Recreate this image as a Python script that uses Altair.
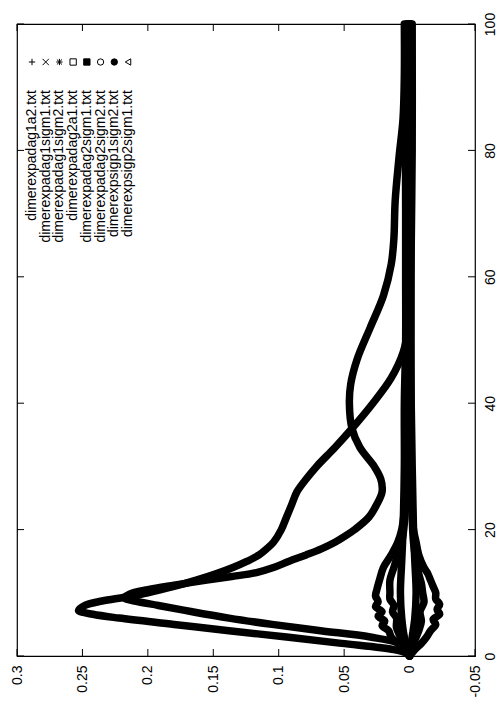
import altair as alt
import pandas as pd

# ---- data ----
labels = ["dimerexpadag1a2.txt", "dimerexpadag1sigm1.txt", "dimerexpadag1sigm2.txt",
          "dimerexpadag2a1.txt", "dimerexpadag2sigm1.txt", "dimerexpadag2sigm2.txt",
          "dimerexpsigp1sigm2.txt", "dimerexpsigp2sigm1.txt"]

a_t = [0, 0.5, 1, 2, 3, 4, 5, 6, 6.6, 7.2, 8, 8.7, 9.3, 10, 11, 12, 13, 14, 15, 16, 17, 18,
       20, 22, 24, 26, 28, 30, 33, 36, 40, 44, 48, 52, 56, 60, 70, 80, 90, 100]
a_v = [0, 0.003, 0.012, 0.052, 0.094, 0.138, 0.18, 0.222, 0.242, 0.253, 0.248, 0.235, 0.218,
       0.2, 0.18, 0.163, 0.148, 0.135, 0.124, 0.115, 0.109, 0.104, 0.098, 0.094, 0.09, 0.086,
       0.079, 0.071, 0.057, 0.044, 0.028, 0.014, 0.005, 0.001, 0.0, 0.0, 0.001, 0.002, 0.002, 0.002]

b_t = [0, 1, 2, 3, 4, 5, 6, 7, 8, 8.7, 9.2, 9.8, 10.5, 11.2, 12, 12.6, 13.2, 14, 15, 16, 17,
       18, 19, 20, 22, 24, 26, 28, 30, 33, 36, 40, 43, 47, 52, 57, 62, 66, 72, 79, 85, 92, 100]
b_v = [0, 0.002, 0.008, 0.03, 0.068, 0.105, 0.138, 0.166, 0.192, 0.21, 0.218, 0.214, 0.2,
       0.18, 0.155, 0.135, 0.117, 0.104, 0.092, 0.079, 0.067, 0.057, 0.049, 0.042, 0.031,
       0.025, 0.021, 0.022, 0.027, 0.038, 0.044, 0.046, 0.045, 0.04, 0.03, 0.02, 0.014,
       0.012, 0.011, 0.008, 0.005, 0.004, 0.004]

c1_t = [0, 1, 2, 3, 4, 4.8, 5.5, 6.3, 7, 7.8, 8.6, 9.5, 10.5, 12, 14, 16, 18, 20, 23, 27,
        32, 40, 50, 60, 80, 100]
c1_v = [0, 0.004, 0.009, 0.014, 0.016, 0.021, 0.019, 0.024, 0.021, 0.026, 0.024, 0.026,
        0.025, 0.023, 0.02, 0.014, 0.009, 0.006, 0.004, 0.003, 0.002, 0.002, 0.001, 0.001,
        0.0, 0.0]

c2_t = [0, 1.5, 3, 4.5, 6, 7, 8, 9, 10, 12, 14, 16, 18, 21, 25, 30, 40, 60, 100]
c2_v = [0, 0.004, 0.007, 0.01, 0.01, 0.013, 0.012, 0.015, 0.015, 0.015, 0.012, 0.009,
        0.006, 0.004, 0.003, 0.002, 0.002, 0.001, 0.001]

c3_t = [0, 1, 2, 3, 4, 5, 5.8, 6.6, 7.4, 8.2, 9, 10, 11, 12, 13, 14, 16, 18, 20, 23, 27,
        35, 50, 100]
c3_v = [0, -0.004, -0.009, -0.013, -0.016, -0.02, -0.018, -0.023, -0.021, -0.023, -0.02,
        -0.02, -0.018, -0.016, -0.014, -0.011, -0.007, -0.005, -0.003, -0.002, -0.001,
        -0.001, -0.001, -0.001]

c4_t = [0, 2, 4, 5.5, 7, 8.5, 10, 11.5, 13, 15, 18, 22, 30, 45, 100]
c4_v = [0, -0.003, -0.007, -0.009, -0.008, -0.011, -0.01, -0.009, -0.007, -0.005, -0.003,
        -0.002, -0.001, 0.0, 0.0]

c5_t = [0, 3, 6, 10, 15, 20, 30, 40, 50, 60, 70, 80, 90, 100]
c5_v = [0, 0.004, 0.006, 0.007, 0.006, 0.005, 0.004, 0.004, 0.003, 0.003, 0.003, 0.003,
        0.002, 0.002]

c6_t = [0, 3, 6, 10, 15, 20, 30, 45, 60, 80, 100]
c6_v = [0, -0.002, -0.004, -0.005, -0.004, -0.003, -0.002, -0.001, -0.001, -0.002, -0.002]

x_ticks = [-0.05, 0, 0.05, 0.1, 0.15, 0.2, 0.25, 0.3]
y_ticks = [0, 20, 40, 60, 80, 100]

series_t = [a_t, c1_t, c3_t, b_t, c2_t, c4_t, c5_t, c6_t]
series_v = [a_v, c1_v, c3_v, b_v, c2_v, c4_v, c5_v, c6_v]

rows = []
for lab, ts, vs in zip(labels, series_t, series_v):
    for i, (t, v) in enumerate(zip(ts, vs)):
        rows.append({"series": lab, "t": t, "v": v, "i": i})
df = pd.DataFrame(rows)

W, H = 458, 632
FONT = "Liberation Sans"

xscale = alt.Scale(domain=[-0.05, 0.3], reverse=True, nice=False, zero=False)
yscale = alt.Scale(domain=[0, 100], nice=False, zero=False)

lines = alt.Chart(df).mark_line(
    color="black", strokeWidth=7.5, strokeJoin="round", strokeCap="round",
    interpolate="catmull-rom"
).encode(
    x=alt.X("v:Q", scale=xscale,
            axis=alt.Axis(values=x_ticks, orient="bottom", title=None, grid=False,
                          ticks=False, domain=False, labelAngle=270, labelAlign="right",
                          labelBaseline="middle", labelPadding=9, labelFont=FONT,
                          labelFontSize=14, labelColor="black",
                          labelExpr="'' + round(datum.value*100)/100")),
    y=alt.Y("t:Q", scale=yscale,
            axis=alt.Axis(values=y_ticks, orient="right", title=None, grid=False,
                          ticks=False, domain=False, labelAngle=270, labelAlign="center",
                          labelBaseline="top", labelPadding=8, labelFont=FONT,
                          labelFontSize=14, labelColor="black")),
    detail="series:N",
    order="i:Q",
)

xt = pd.DataFrame({"v": x_ticks})
yt = pd.DataFrame({"t": y_ticks})
tick_style = dict(color="black", strokeWidth=1)
bottom_ticks = alt.Chart(xt).mark_rule(**tick_style).encode(
    x=alt.X("v:Q", scale=xscale), y=alt.value(H), y2=alt.value(H - 7))
top_ticks = alt.Chart(xt).mark_rule(**tick_style).encode(
    x=alt.X("v:Q", scale=xscale), y=alt.value(0), y2=alt.value(7))
right_ticks = alt.Chart(yt).mark_rule(**tick_style).encode(
    y=alt.Y("t:Q", scale=yscale), x=alt.value(W), x2=alt.value(W - 7))
left_ticks = alt.Chart(yt).mark_rule(**tick_style).encode(
    y=alt.Y("t:Q", scale=yscale), x=alt.value(0), x2=alt.value(7))

leg = pd.DataFrame({"label": labels, "k": list(range(len(labels)))})
kscale = alt.Scale(domain=[0, 7], range=[15, 111])
shape_paths = ["M-1,0L1,0M0,-1L0,1",
               "M-1,-1L1,1M-1,1L1,-1",
               "M-1,0L1,0M0,-1L0,1M-0.8,-0.8L0.8,0.8M-0.8,0.8L0.8,-0.8",
               "square", "square", "circle", "circle", "triangle-left"]
fills = ["transparent", "transparent", "transparent", "transparent", "black",
         "transparent", "black", "transparent"]

leg_text = alt.Chart(leg).mark_text(
    angle=270, align="right", baseline="middle", font=FONT, fontSize=14, color="black"
).encode(
    x=alt.X("k:Q", scale=kscale, axis=None),
    y=alt.value(66),
    text="label:N",
)
leg_pts = alt.Chart(leg).mark_point(size=40, stroke="black", strokeWidth=1, opacity=1,
                                    fillOpacity=1).encode(
    x=alt.X("k:Q", scale=kscale, axis=None),
    y=alt.value(38),
    shape=alt.Shape("label:N", scale=alt.Scale(domain=labels, range=shape_paths), legend=None),
    fill=alt.Fill("label:N", scale=alt.Scale(domain=labels, range=fills), legend=None),
)

main = alt.layer(lines, bottom_ticks, top_ticks, right_ticks, left_ticks)
legend = alt.layer(leg_text, leg_pts)

chart = alt.layer(main, legend).resolve_scale(x="independent").properties(
    width=W, height=H,
    padding={"left": 17, "top": 24, "right": 29, "bottom": 64},
    autosize=alt.AutoSizeParams(type="none"),
    background="white",
).configure_view(stroke="black", strokeWidth=1.2)

chart.save("out.html", embed_options={"renderer": "svg", "actions": False})
